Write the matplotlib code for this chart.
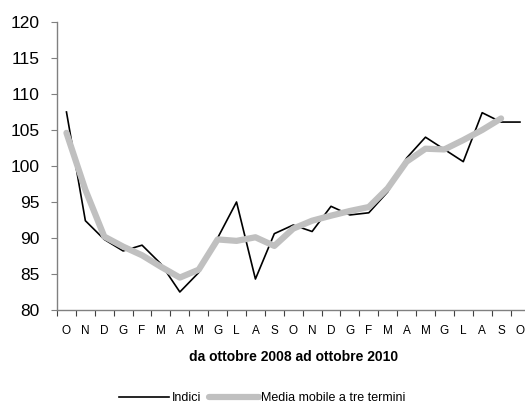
import numpy as np
import matplotlib
matplotlib.use("Agg")
import matplotlib.pyplot as plt

plt.rcParams["font.family"] = ["Liberation Sans", "DejaVu Sans"]

months = ["O", "N", "D", "G", "F", "M", "A", "M", "G", "L", "A", "S",
          "O", "N", "D", "G", "F", "M", "A", "M", "G", "L", "A", "S", "O"]

indici = [107.5, 92.4, 89.8, 88.2, 89.0, 86.4, 82.5, 85.2, 90.0, 95.0, 84.3, 90.6,
          91.8, 90.9, 94.4, 93.2, 93.5, 96.4, 101.1, 104.0, 102.3, 100.6, 107.4, 106.1, 106.1]

media = [104.6, 96.7, 90.2, 88.8, 87.6, 86.0, 84.5, 85.6, 89.8, 89.6, 90.1, 88.9,
         91.3, 92.4, 93.1, 93.75, 94.3, 96.9, 100.6, 102.4, 102.3, 103.6, 105.0, 106.6, np.nan]

x = np.arange(len(months))

fig = plt.figure(figsize=(5.25, 4.04), dpi=100)
ax = fig.add_axes([0.1086, 0.2327, 0.8998, 0.7129])

ax.plot(x, indici, color="black", linewidth=1.2, label="Indici", zorder=2)
ax.plot(x, media, color="#c0c0c0", linewidth=4.5, label="Media mobile a tre termini",
        solid_capstyle="round", zorder=3)

ax.set_xlim(-0.5, len(months) - 0.5)
ax.set_ylim(80, 120)
ax.set_yticks(np.arange(80, 121, 5))
ax.tick_params(axis="y", labelsize=12.5, length=4.5, width=0.8, color="#808080", pad=8)

ax.set_xticks(x)
ax.set_xticklabels(months)
ax.set_xticks(np.arange(-0.5, len(months), 1), minor=True)
ax.tick_params(axis="x", which="major", length=0, labelsize=8.5, pad=11)
ax.tick_params(axis="x", which="minor", length=4, width=0.8, color="#404040")

for s in ["top", "right"]:
    ax.spines[s].set_visible(False)
for s in ["left", "bottom"]:
    ax.spines[s].set_color("#808080")
    ax.spines[s].set_linewidth(1.0)

ax.set_xlabel("da ottobre 2008 ad ottobre 2010", fontsize=10, fontweight="bold", labelpad=9)

ax.legend(loc="center", bbox_to_anchor=(0.5, 0.015), bbox_transform=fig.transFigure,
          ncol=2, frameon=False, fontsize=9, handlelength=4.0, handletextpad=0.2,
          columnspacing=0.6)

fig.savefig("out.png", dpi=100)
